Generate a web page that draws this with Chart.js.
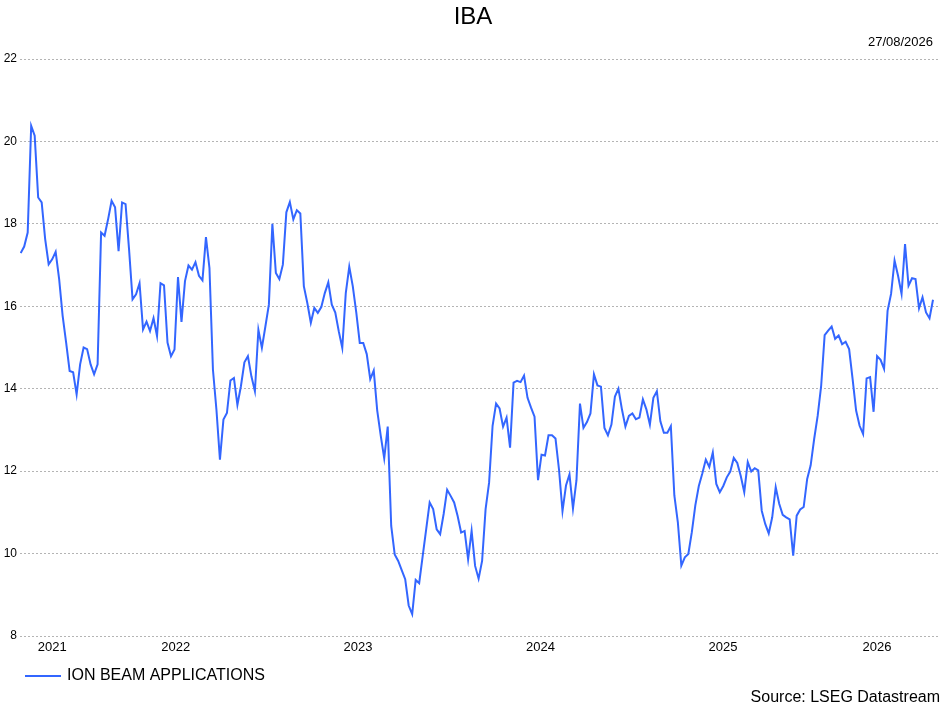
<!DOCTYPE html>
<html>
<head>
<meta charset="utf-8">
<title>IBA</title>
<script src="https://cdn.jsdelivr.net/npm/chart.js@4.4.1/dist/chart.umd.min.js"></script>
<style>
  html, body { margin: 0; padding: 0; background: #fff; }
  #wrap { position: relative; width: 947px; height: 708px; }
</style>
</head>
<body>
<div id="wrap"><canvas id="myChart" width="947" height="708"></canvas></div>
<script>
'use strict';

// chart data

let chartTitle = 'IBA';
let seriesName = 'ION BEAM APPLICATIONS';
let lastDateText = '27/08/2026';
let sourceText = 'Source: LSEG Datastream';
let yearLabels = ['2021', '2022', '2023', '2024', '2025', '2026'];
let yTickValues = [8, 10, 12, 14, 16, 18, 20, 22];

// weekly closes, oldest first
let prices = [
  17.29, 17.45, 17.79, 20.38, 20.14, 18.64, 18.52, 17.63, 17.02, 17.14,
  17.32, 16.66, 15.77, 15.12, 14.43, 14.40, 13.86, 14.59, 15.00, 14.96,
  14.59, 14.35, 14.59, 17.79, 17.71, 18.11, 18.56, 18.40, 17.34, 18.52,
  18.48, 17.38, 16.17, 16.29, 16.56, 15.44, 15.63, 15.40, 15.71, 15.28,
  16.56, 16.51, 15.12, 14.79,
  14.95, 16.71, 15.62, 16.61, 16.99, 16.89, 17.07, 16.74, 16.63, 17.68,
  16.93, 14.46, 13.49, 12.28, 13.25, 13.41, 14.20, 14.26, 13.61, 14.06,
  14.64, 14.79, 14.30, 13.94, 15.43, 14.99, 15.51, 16.04, 18.00, 16.81,
  16.66, 17.01, 18.28, 18.53, 18.11, 18.33, 18.25, 16.49, 16.08, 15.60,
  15.96, 15.84, 15.98, 16.32, 16.58, 16.04, 15.85, 15.39, 14.99, 16.32,
  16.96, 16.49, 15.85, 15.11,
  15.11, 14.84, 14.23, 14.44, 13.47, 12.86, 12.31, 13.08, 10.67, 9.98,
  9.82, 9.60, 9.38, 8.74, 8.53, 9.36, 9.28, 9.94, 10.59, 11.24,
  11.08, 10.59, 10.47, 10.96, 11.55, 11.40, 11.24, 10.91, 10.51, 10.55,
  9.86, 10.55, 9.70, 9.39, 9.82, 11.08, 11.72, 13.10, 13.64, 13.52,
  13.08, 13.30, 12.57, 14.15,
  14.19, 14.16, 14.32, 13.78, 13.54, 13.32, 11.78, 12.40, 12.38, 12.87,
  12.87, 12.79, 12.04, 11.03, 11.65, 11.92, 11.09, 11.78, 13.64, 13.05,
  13.19, 13.40, 14.35, 14.08, 14.05, 13.05, 12.87, 13.13, 13.81, 14.00,
  13.50, 13.08, 13.34, 13.40, 13.26, 13.30, 13.74, 13.50, 13.13, 13.78,
  13.94, 13.21, 12.93,
  12.93, 13.09, 11.41, 10.76, 9.71, 9.91, 9.99, 10.52, 11.17, 11.64,
  11.94, 12.28, 12.10, 12.45, 11.69, 11.49, 11.64, 11.85, 11.99, 12.32,
  12.20, 11.88, 11.49, 12.22, 11.99, 12.07, 12.02, 11.04, 10.72, 10.49,
  10.88, 11.61, 11.21, 10.94, 10.88, 10.83, 9.95, 10.92, 11.07, 11.13,
  11.81, 12.14, 12.78,
  13.34, 14.07, 15.30, 15.41, 15.51, 15.21, 15.29, 15.08, 15.14, 14.96,
  14.23, 13.47, 13.10, 12.90, 14.25, 14.28, 13.44, 14.79, 14.70, 14.48,
  15.89, 16.30, 17.11, 16.74, 16.30, 17.51, 16.50, 16.68, 16.66, 15.95,
  16.22, 15.85, 15.71, 16.16
];

// weekly dates, counting back from the last one

let weekMs = 7 * 24 * 3600 * 1000;
let lastDate = Date.UTC(2026, 7, 27);
let weekDates = [];
for (let i = 0; i < prices.length; i++) {
  weekDates.push(lastDate - (prices.length - 1 - i) * weekMs);
}

let xMin = weekDates[0] - 0.2 * weekMs;
let xMax = lastDate + 2 * weekMs;

// year labels sit in the middle of the visible part of each year
function yearCenters() {
  let centers = [];
  for (let i = 0; i < yearLabels.length; i++) {
    let yr = Number(yearLabels[i]);
    let a = Math.max(Date.UTC(yr, 0, 1), xMin);
    let b = Math.min(Date.UTC(yr + 1, 0, 1), xMax);
    centers.push({ value: (a + b) / 2 });
  }
  return centers;
}

let fontName = '"Liberation Sans", Arial, sans-serif';

// texts around the plot
let decorPlugin = {
  id: 'decor',
  afterDraw(chart) {
    let ctx = chart.ctx;
    ctx.save();
    ctx.fillStyle = '#000';
    ctx.textBaseline = 'middle';

    ctx.font = '24px ' + fontName;
    ctx.textAlign = 'center';
    ctx.fillText(chartTitle, 473, 17);

    ctx.font = '13px ' + fontName;
    ctx.textAlign = 'right';
    ctx.fillText(lastDateText, 933, 42);

    ctx.strokeStyle = '#3366ff';
    ctx.lineWidth = 2;
    ctx.beginPath();
    ctx.moveTo(25, 676);
    ctx.lineTo(61, 676);
    ctx.stroke();

    ctx.font = '16px ' + fontName;
    ctx.textAlign = 'left';
    ctx.fillText(seriesName, 67, 676);

    ctx.textAlign = 'right';
    ctx.fillText(sourceText, 940, 698);
    ctx.restore();
  }
};

const ctx = document.getElementById('myChart');
const config = {
  type: 'line',
  data: {
    datasets: [
      {
        label: seriesName,
        data: weekDates.map((d, i) => ({ x: d, y: prices[i] })),
        borderColor: '#3366ff',
        borderWidth: 2,
        pointRadius: 0,
        tension: 0,
        fill: false
      }
    ]
  },
  options: {
    responsive: false,
    animation: false,
    layout: {
      padding: { top: 59, right: 7, bottom: 48, left: 0 }
    },
    plugins: {
      legend: { display: false },
      tooltip: { enabled: false }
    },
    scales: {
      x: {
        type: 'linear',
        min: xMin,
        max: xMax,
        afterBuildTicks: (scale) => { scale.ticks = yearCenters(); },
        afterFit: (scale) => { scale.height = 24; },
        grid: { display: false, drawTicks: false },
        border: { display: false },
        ticks: {
          autoSkip: false,
          maxRotation: 0,
          padding: 4,
          color: '#000',
          font: { family: fontName, size: 13 },
          callback: (value, index) => yearLabels[index]
        }
      },
      y: {
        min: 8,
        max: 22,
        afterBuildTicks: (scale) => { scale.ticks = yTickValues.map(v => ({ value: v })); },
        afterFit: (scale) => { scale.width = 20; },
        grid: { color: '#b4b4b4', lineWidth: 1, drawTicks: false },
        border: { display: false, dash: [2, 2] },
        ticks: {
          padding: 3,
          color: '#000',
          font: { family: fontName, size: 12 }
        }
      }
    }
  },
  plugins: [decorPlugin]
};
new Chart(ctx, config);
</script>
</body>
</html>
